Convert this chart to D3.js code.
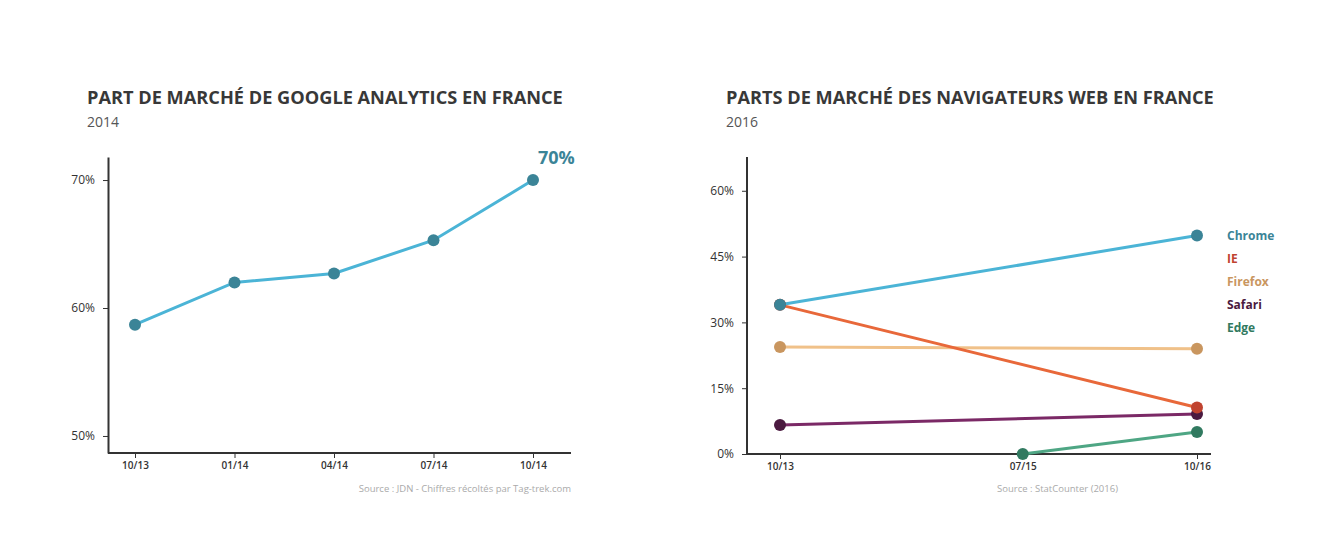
<!DOCTYPE html>
<html>
<head>
<meta charset="utf-8">
<script src="https://cdn.jsdelivr.net/npm/d3@7"></script>
<style>
  body { margin: 0; background: #fff; }
  text { font-family: "Open Sans", sans-serif; }
</style>
</head>
<body>
<div id="chart"></div>
<script>
// ---- data ----
var gaLabels = ['10/13', '01/14', '04/14', '07/14', '10/14'];
var gaValues = [58.7, 62.0, 62.7, 65.3, 70.0];
var gaTicks = [50, 60, 70];

var navDates = ['2013-10', '2015-07', '2016-10'];
var navDateLabels = ['10/13', '07/15', '10/16'];
var navNames = ['Chrome', 'IE', 'Firefox', 'Safari', 'Edge'];
var navChrome = [34.0, null, 49.8];
var navIE = [34.0, null, 10.6];
var navFirefox = [24.4, null, 24.0];
var navSafari = [6.6, null, 9.1];
var navEdge = [null, 0, 5.0];
var navTicks = [0, 15, 30, 45, 60];

var lineColors = ['#4bb4d6', '#e8683a', '#f0c189', '#7b2966', '#4ea684'];
var dotColors = ['#3b8497', '#c0432f', '#c9965f', '#4b1a40', '#317a60'];

var dim = { width: 1334, height: 560 };
var svg = d3.select('#chart').append('svg')
    .attr('width', dim.width)
    .attr('height', dim.height);

function headings(x, title, sub) {
    svg.append('text')
        .attr('x', x).attr('y', 104)
        .attr('font-size', 18.2).attr('font-weight', 700)
        .attr('fill', '#383838')
        .text(title);
    svg.append('text')
        .attr('x', x).attr('y', 127)
        .attr('font-size', 14).attr('fill', '#555')
        .text(sub);
}

function styleAxis(g) {
    g.selectAll('path').attr('stroke', '#333').attr('stroke-width', 2);
    g.selectAll('line').attr('stroke', '#333').attr('stroke-width', 1);
    g.selectAll('text').attr('fill', '#333').attr('font-family', '"Open Sans", sans-serif');
}

// ---- left: Google Analytics ----
headings(87, 'PART DE MARCHÉ DE GOOGLE ANALYTICS EN FRANCE', '2014');

var x1 = d3.scalePoint().domain(gaLabels).range([135, 533]);
var y1 = d3.scaleLinear().domain([48.67, 71.8]).range([453, 157]);

var ax1 = svg.append('g').attr('transform', 'translate(0,453)')
    .call(d3.axisBottom(x1).tickSizeOuter(0).tickSize(5).tickPadding(4));
ax1.select('.domain').attr('d', 'M108,0H571');
ax1.selectAll('text').attr('font-size', 10).attr('font-weight', 600);
styleAxis(ax1);

var ay1 = svg.append('g').attr('transform', 'translate(108,0)')
    .call(d3.axisLeft(y1).tickValues(gaTicks).tickFormat(d => d + '%').tickSize(5).tickSizeOuter(0).tickPadding(8));
ay1.selectAll('text').attr('font-size', 12);
styleAxis(ay1);

var gaData = gaLabels.map((l, i) => ({ l: l, v: gaValues[i] }));
svg.append('path').datum(gaData)
    .attr('fill', 'none').attr('stroke', '#4bb4d6').attr('stroke-width', 3)
    .attr('d', d3.line().x(d => x1(d.l)).y(d => y1(d.v)));
svg.selectAll('.gadot').data(gaData).enter().append('circle')
    .attr('cx', d => x1(d.l)).attr('cy', d => y1(d.v)).attr('r', 6)
    .attr('fill', '#3b8497');

var last = gaData[gaData.length - 1];
svg.append('text')
    .attr('x', x1(last.l) + 5).attr('y', y1(last.v) - 16)
    .attr('font-size', 18).attr('font-weight', 700).attr('fill', '#3b8497')
    .text(last.v + '%');

svg.append('text')
    .attr('x', 571).attr('y', 492).attr('text-anchor', 'end')
    .attr('font-size', 9.5).attr('fill', '#aaa')
    .text('Source : JDN - Chiffres récoltés par Tag-trek.com');

// ---- right: navigateurs ----
headings(726, 'PARTS DE MARCHÉ DES NAVIGATEURS WEB EN FRANCE', '2016');

var parse = d3.timeParse('%Y-%m');
var dates = navDates.map(parse);
var x2 = d3.scaleTime().domain([dates[0], dates[2]]).range([780, 1197]);
var y2 = d3.scaleLinear().domain([0, 67.7]).range([454, 157]);

var ax2 = svg.append('g').attr('transform', 'translate(0,454)')
    .call(d3.axisBottom(x2).tickValues(dates).tickFormat((d, i) => navDateLabels[i])
        .tickSize(5).tickSizeOuter(0).tickPadding(4));
ax2.select('.domain').attr('d', 'M747,0H1211');
ax2.selectAll('text').attr('font-size', 10).attr('font-weight', 600);
styleAxis(ax2);

var ay2 = svg.append('g').attr('transform', 'translate(747,0)')
    .call(d3.axisLeft(y2).tickValues(navTicks).tickFormat(d => d + '%').tickSize(5).tickSizeOuter(0).tickPadding(8));
ay2.select('.domain').attr('d', 'M0,157V454');
ay2.selectAll('text').attr('font-size', 12);
styleAxis(ay2);

var navSeries = [navChrome, navIE, navFirefox, navSafari, navEdge].map((vals, k) => ({
    name: navNames[k],
    k: k,
    pts: vals.map((v, i) => ({ d: dates[i], v: v })).filter(p => p.v !== null)
}));

var line2 = d3.line().x(d => x2(d.d)).y(d => y2(d.v));
// draw from the end of the list so Chrome sits on top
var drawOrder = [4, 3, 2, 1, 0];
drawOrder.forEach(function (k) {
    var s = navSeries[k];
    svg.append('path').datum(s.pts)
        .attr('fill', 'none').attr('stroke', lineColors[k]).attr('stroke-width', 3)
        .attr('d', line2);
});
drawOrder.forEach(function (k) {
    var s = navSeries[k];
    svg.selectAll('.dot' + k).data(s.pts).enter().append('circle')
        .attr('cx', d => x2(d.d)).attr('cy', d => y2(d.v)).attr('r', 6)
        .attr('fill', dotColors[k]);
});

svg.selectAll('.legend').data(navNames).enter().append('text')
    .attr('x', 1227).attr('y', (d, i) => 240 + i * 23)
    .attr('font-size', 12).attr('font-weight', 700)
    .attr('fill', (d, i) => dotColors[i])
    .text(d => d);

svg.append('text')
    .attr('x', 997).attr('y', 492)
    .attr('font-size', 9.5).attr('fill', '#aaa')
    .text('Source : StatCounter (2016)');
</script>
</body>
</html>
